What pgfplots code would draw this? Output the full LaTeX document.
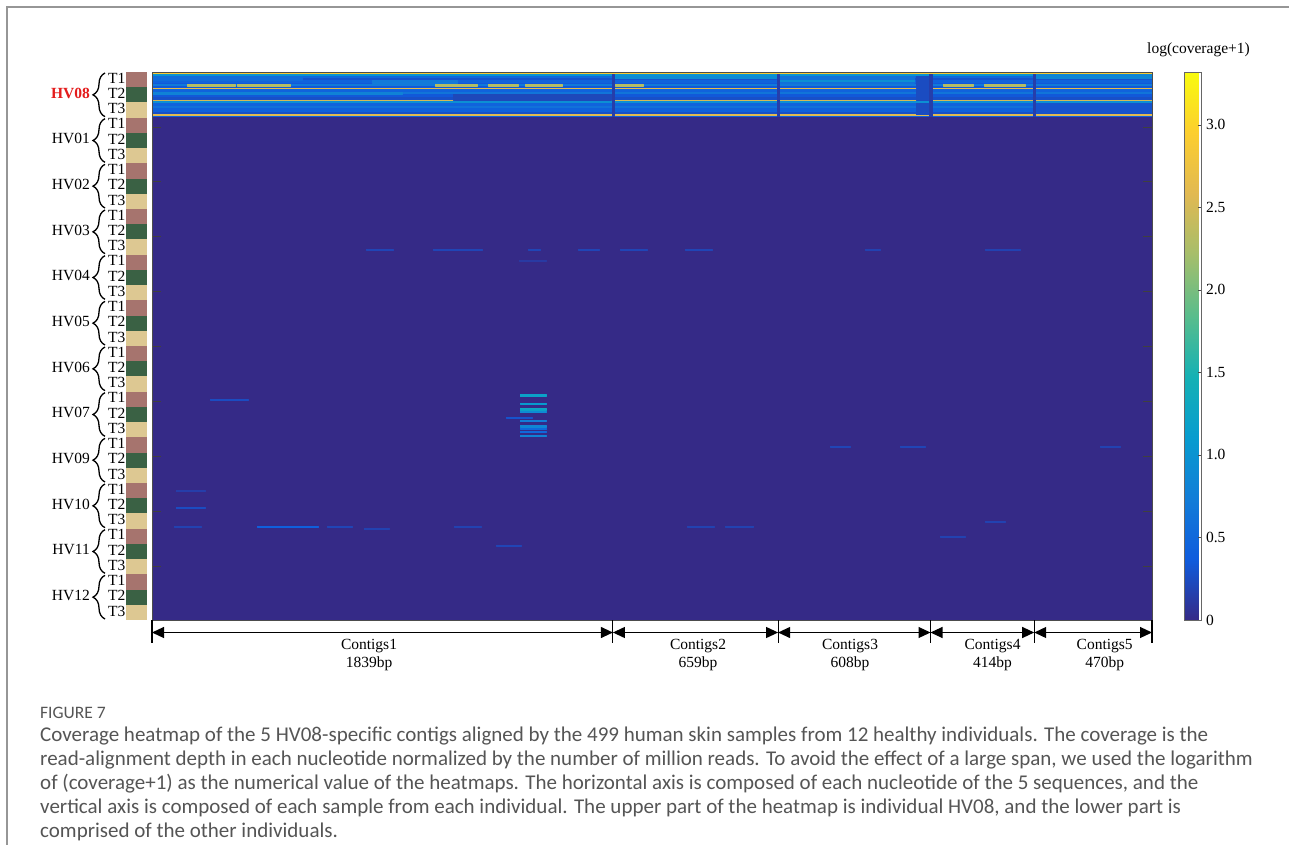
\documentclass[border=0pt]{standalone}
\usepackage{fontspec}
\setmainfont{Liberation Serif}
\newfontfamily\capfont{Carlito}
\usepackage{pgfplots}
\pgfplotsset{compat=1.18}
\usetikzlibrary{arrows.meta,decorations.pathreplacing}
\definecolor{tone}{RGB}{166,116,110}
\definecolor{ttwo}{RGB}{58,97,68}
\definecolor{tthree}{RGB}{221,200,146}
\definecolor{hvred}{RGB}{228,28,28}
\definecolor{capgray}{RGB}{85,85,85}
\definecolor{framegray}{RGB}{150,150,150}
\pgfplotsset{
  colormap={parula}{rgb255(0)=(53,42,135) rgb255(1)=(15,92,221) rgb255(2)=(18,125,216)
    rgb255(3)=(7,156,207) rgb255(4)=(21,177,180) rgb255(5)=(89,189,140)
    rgb255(6)=(165,190,107) rgb255(7)=(225,185,82) rgb255(8)=(252,206,46)
    rgb255(9)=(249,251,14)}
}
\newcommand\lab{\fontsize{15.5}{18}\selectfont}
\begin{document}
\begin{tikzpicture}
\useasboundingbox (0pt,0pt) rectangle (1289pt,-845pt);
\fill[white] (0pt,0pt) rectangle (1289pt,-845pt);
\draw[framegray, line width=1.5pt] (1289pt,-7pt) -- (7pt,-7pt) -- (7pt,-845pt);
\begin{axis}[
  at={(152pt,-620pt)}, anchor=south west,
  width=1000pt, height=548pt, scale only axis,
  xmin=0, xmax=3990, ymin=0, ymax=499, y dir=reverse,
  xtick=\empty, ytick={50,100,150,200,250,300,350,400,450}, yticklabels={},
  tick align=inside, major tick length=9pt,
  tick style={black!75, line width=0.8pt},
  axis line style={black!70, line width=0.8pt},
  axis on top,
  point meta min=0, point meta max=3.32,
  colormap name=parula,
  colorbar,
  colorbar style={
    at={(parent axis.north east)}, anchor=north west, xshift=24pt,
    width=17pt, height=548pt, scale only axis,
    ytick={0,0.5,1,1.5,2,2.5,3},
    yticklabels={0,0.5,1.0,1.5,2.0,2.5,3.0},
    ytick pos=right, yticklabel pos=right,
    tick align=inside, major tick length=4pt,
    tick style={black!70, line width=0.6pt},
    axis line style={black!60, line width=0.6pt},
    yticklabel style={font=\lab, xshift=1pt},
  },
]
% background and HV08 sample rows
\addplot[patch, patch type=rectangle, shader=flat, point meta=explicit]
table[meta=c, row sep=\\] {
x y c\\
0 0 0\\ 3990 0 0\\ 3990 499 0\\ 0 499 0\\
0 0 2.9\\ 3990 0 2.9\\ 3990 2.1 2.9\\ 0 2.1 2.9\\
0 1.8 1.0\\ 3990 1.8 1.0\\ 3990 3.9 1.0\\ 0 3.9 1.0\\
0 3.6 0.5\\ 3990 3.6 0.5\\ 3990 5.7 0.5\\ 0 5.7 0.5\\
0 5.4 0.3\\ 3990 5.4 0.3\\ 3990 7.6 0.3\\ 0 7.6 0.3\\
0 7.3 0.45\\ 3990 7.3 0.45\\ 3990 10.6 0.45\\ 0 10.6 0.45\\
0 10.3 0.35\\ 3990 10.3 0.35\\ 3990 11.5 0.35\\ 0 11.5 0.35\\
0 11.2 0.7\\ 3990 11.2 0.7\\ 3990 13.0 0.7\\ 0 13.0 0.7\\
0 12.7 0.35\\ 3990 12.7 0.35\\ 3990 15.1 0.35\\ 0 15.1 0.35\\
0 14.8 2.65\\ 3990 14.8 2.65\\ 3990 16.0 2.65\\ 0 16.0 2.65\\
0 15.7 0.45\\ 3990 15.7 0.45\\ 3990 19.1 0.45\\ 0 19.1 0.45\\
0 18.8 0.65\\ 3990 18.8 0.65\\ 3990 20.6 0.65\\ 0 20.6 0.65\\
0 20.3 0.35\\ 3990 20.3 0.35\\ 3990 23.3 0.35\\ 0 23.3 0.35\\
0 23.0 0.28\\ 3990 23.0 0.28\\ 3990 26.1 0.28\\ 0 26.1 0.28\\
0 25.8 2.5\\ 3990 25.8 2.5\\ 3990 27.1 2.5\\ 0 27.1 2.5\\
0 26.8 0.95\\ 3990 26.8 0.95\\ 3990 28.8 0.95\\ 0 28.8 0.95\\
0 28.5 0.45\\ 3990 28.5 0.45\\ 3990 31.3 0.45\\ 0 31.3 0.45\\
0 31.0 0.6\\ 3990 31.0 0.6\\ 3990 33.7 0.6\\ 0 33.7 0.6\\
0 33.4 0.42\\ 3990 33.4 0.42\\ 3990 37.3 0.42\\ 0 37.3 0.42\\
0 37.0 0.28\\ 3990 37.0 0.28\\ 3990 39.1 0.28\\ 0 39.1 0.28\\
0 38.8 2.6\\ 3990 38.8 2.6\\ 3990 40.2 2.6\\ 0 40.2 2.6\\
0 39.9 0.4\\ 3990 39.9 0.4\\ 3990 40.6 0.4\\ 0 40.6 0.4\\
};
% contig-level variations, gaps, short bright segments
\addplot[patch, patch type=rectangle, shader=flat, point meta=explicit]
table[meta=c, row sep=\\] {
x y c\\
1846 3.8 0.9\\ 2492 3.8 0.9\\ 2492 5.2 0.9\\ 1846 5.2 0.9\\
2504 3.6 0.6\\ 3040 3.6 0.6\\ 3040 10.3 0.6\\ 2504 10.3 0.6\\
2504 7.3 0.95\\ 3040 7.3 0.95\\ 3040 8.6 0.95\\ 2504 8.6 0.95\\
0 3.6 0.55\\ 600 3.6 0.55\\ 600 7.3 0.55\\ 0 7.3 0.55\\
880 7.3 0.7\\ 1217 7.3 0.7\\ 1217 10.3 0.7\\ 880 10.3 0.7\\
0 18.8 0.8\\ 1000 18.8 0.8\\ 1000 20.3 0.8\\ 0 20.3 0.8\\
1200 20.3 0.22\\ 1834 20.3 0.22\\ 1834 25.8 0.22\\ 1200 25.8 0.22\\
3526 1.8 0.85\\ 3990 1.8 0.85\\ 3990 5.4 0.85\\ 3526 5.4 0.85\\
3526 28.5 0.3\\ 3990 28.5 0.3\\ 3990 37 0.3\\ 3526 37 0.3\\
3050 3.6 0.25\\ 3100 3.6 0.25\\ 3100 14.8 0.25\\ 3050 14.8 0.25\\
3050 15.7 0.25\\ 3100 15.7 0.25\\ 3100 25.8 0.25\\ 3050 25.8 0.25\\
3050 28.5 0.25\\ 3100 28.5 0.25\\ 3100 38.8 0.25\\ 3050 38.8 0.25\\
1835 1.8 0.15\\ 1845 1.8 0.15\\ 1845 40.6 0.15\\ 1835 40.6 0.15\\
2493 1.8 0.15\\ 2503 1.8 0.15\\ 2503 40.6 0.15\\ 2493 40.6 0.15\\
3101 1.8 0.15\\ 3111 1.8 0.15\\ 3111 40.6 0.15\\ 3101 40.6 0.15\\
3515 1.8 0.15\\ 3525 1.8 0.15\\ 3525 40.6 0.15\\ 3515 40.6 0.15\\
140 11.5 2.3\\ 331 11.5 2.3\\ 331 12.5 2.3\\ 140 12.5 2.3\\
339 11.5 2.3\\ 551 11.5 2.3\\ 551 12.5 2.3\\ 339 12.5 2.3\\
1129 11.5 2.3\\ 1297 11.5 2.3\\ 1297 12.5 2.3\\ 1129 12.5 2.3\\
1341 11.5 2.3\\ 1460 11.5 2.3\\ 1460 12.5 2.3\\ 1341 12.5 2.3\\
1488 11.5 2.3\\ 1636 11.5 2.3\\ 1636 12.5 2.3\\ 1488 12.5 2.3\\
1850 11.5 2.3\\ 1959 11.5 2.3\\ 1959 12.5 2.3\\ 1850 12.5 2.3\\
3156 11.5 2.3\\ 3276 11.5 2.3\\ 3276 12.5 2.3\\ 3156 12.5 2.3\\
3320 11.5 2.3\\ 3483 11.5 2.3\\ 3483 12.5 2.3\\ 3320 12.5 2.3\\
};
% sparse coverage in the other individuals
\addplot[patch, patch type=rectangle, shader=flat, point meta=explicit]
table[meta=c, row sep=\\] {
x y c\\
854 161.3 0.2\\ 962 161.3 0.2\\ 962 162.5 0.2\\ 854 162.5 0.2\\
1121 161.3 0.2\\ 1317 161.3 0.2\\ 1317 162.5 0.2\\ 1121 162.5 0.2\\
1500 161.3 0.2\\ 1548 161.3 0.2\\ 1548 162.5 0.2\\ 1500 162.5 0.2\\
1700 161.3 0.2\\ 1784 161.3 0.2\\ 1784 162.5 0.2\\ 1700 162.5 0.2\\
1867 161.3 0.2\\ 1975 161.3 0.2\\ 1975 162.5 0.2\\ 1867 162.5 0.2\\
2127 161.3 0.2\\ 2234 161.3 0.2\\ 2234 162.5 0.2\\ 2127 162.5 0.2\\
2845 161.3 0.18\\ 2905 161.3 0.18\\ 2905 162.5 0.18\\ 2845 162.5 0.18\\
3324 161.3 0.18\\ 3463 161.3 0.18\\ 3463 162.5 0.18\\ 3324 162.5 0.18\\
1464 171 0.12\\ 1572 171 0.12\\ 1572 172 0.12\\ 1464 172 0.12\\
231 297.5 0.25\\ 383 297.5 0.25\\ 383 298.7 0.25\\ 231 298.7 0.25\\
1468 293.7 1.2\\ 1572 293.7 1.2\\ 1572 295.5 1.2\\ 1468 295.5 1.2\\
1468 301.3 1.1\\ 1572 301.3 1.1\\ 1572 302.4 1.1\\ 1468 302.4 1.1\\
1468 306.0 1.3\\ 1572 306.0 1.3\\ 1572 306.6 1.3\\ 1468 306.6 1.3\\
1468 306.6 2.1\\ 1572 306.6 2.1\\ 1572 307.4 2.1\\ 1468 307.4 2.1\\
1468 307.4 1.2\\ 1572 307.4 1.2\\ 1572 308.0 1.2\\ 1468 308.0 1.2\\
1468 308.7 0.9\\ 1572 308.7 0.9\\ 1572 310.2 0.9\\ 1468 310.2 0.9\\
1412 314.2 0.3\\ 1516 314.2 0.3\\ 1516 315.1 0.3\\ 1412 315.1 0.3\\
1468 317.2 0.75\\ 1572 317.2 0.75\\ 1572 318.4 0.75\\ 1468 318.4 0.75\\
1468 321.5 0.85\\ 1572 321.5 0.85\\ 1572 323.0 0.85\\ 1468 323.0 0.85\\
1468 324.5 0.5\\ 1572 324.5 0.5\\ 1572 325.3 0.5\\ 1468 325.3 0.5\\
1468 327.0 0.5\\ 1572 327.0 0.5\\ 1572 328.4 0.5\\ 1468 328.4 0.5\\
1468 331.0 0.8\\ 1572 331.0 0.8\\ 1572 332.0 0.8\\ 1468 332.0 0.8\\
2705 340.5 0.2\\ 2785 340.5 0.2\\ 2785 341.6 0.2\\ 2705 341.6 0.2\\
2985 340.5 0.2\\ 3084 340.5 0.2\\ 3084 341.6 0.2\\ 2985 341.6 0.2\\
3782 340.5 0.18\\ 3862 340.5 0.18\\ 3862 341.6 0.18\\ 3782 341.6 0.18\\
96 381 0.15\\ 211 381 0.15\\ 211 382 0.15\\ 96 382 0.15\\
96 396.5 0.25\\ 211 396.5 0.25\\ 211 397.6 0.25\\ 96 397.6 0.25\\
3324 409 0.18\\ 3403 409 0.18\\ 3403 410 0.18\\ 3324 410 0.18\\
88 413.5 0.18\\ 195 413.5 0.18\\ 195 414.6 0.18\\ 88 414.6 0.18\\
419 413.5 0.4\\ 662 413.5 0.4\\ 662 414.6 0.4\\ 419 414.6 0.4\\
698 413.5 0.2\\ 798 413.5 0.2\\ 798 414.6 0.2\\ 698 414.6 0.2\\
846 415.5 0.18\\ 946 415.5 0.18\\ 946 416.6 0.18\\ 846 416.6 0.18\\
1205 413.5 0.18\\ 1313 413.5 0.18\\ 1313 414.6 0.18\\ 1205 414.6 0.18\\
2135 413.5 0.18\\ 2242 413.5 0.18\\ 2242 414.6 0.18\\ 2135 414.6 0.18\\
2286 413.5 0.18\\ 2400 413.5 0.18\\ 2400 414.6 0.18\\ 2286 414.6 0.18\\
3144 422.5 0.18\\ 3244 422.5 0.18\\ 3244 423.6 0.18\\ 3144 423.6 0.18\\
1373 431 0.2\\ 1472 431 0.2\\ 1472 432 0.2\\ 1373 432 0.2\\
};
\end{axis}
% colorbar title
\node[font=\lab] at (1198.5pt,-50pt) {log(coverage+1)};
% left sample annotation
\foreach \nm [count=\i from 0] in {HV08,HV01,HV02,HV03,HV04,HV05,HV06,HV07,HV09,HV10,HV11,HV12}{
  \pgfmathsetmacro{\ta}{72+\i*45.6667}
  \pgfmathsetmacro{\tb}{\ta+15.2222}
  \pgfmathsetmacro{\tc}{\ta+30.4444}
  \pgfmathsetmacro{\td}{\ta+45.6667}
  \fill[tone] (126pt,-\ta pt) rectangle (147pt,-\tb pt);
  \fill[ttwo] (126pt,-\tb pt) rectangle (147pt,-\tc pt);
  \fill[tthree] (126pt,-\tc pt) rectangle (147pt,-\td pt);
  \node[font=\lab, anchor=east, inner sep=0pt] at (125.5pt,{-(\ta+6.2)*1pt}) {T1};
  \node[font=\lab, anchor=east, inner sep=0pt] at (125.5pt,{-(\tb+6.2)*1pt}) {T2};
  \node[font=\lab, anchor=east, inner sep=0pt] at (125.5pt,{-(\tc+6.2)*1pt}) {T3};
  \draw[line width=1.3pt, decorate, decoration={brace, amplitude=12pt}]
     (105pt,{-(\td-1)*1pt}) -- (105pt,{-(\ta+1)*1pt});
}
\foreach \nm [count=\i from 0] in {HV01,HV02,HV03,HV04,HV05,HV06,HV07,HV09,HV10,HV11,HV12}{
  \node[font=\lab, anchor=east, inner sep=0pt] at (90pt,{-(72+(\i+1)*45.6667+21)*1pt}) {\nm};
}
\node[font=\lab\bfseries, text=hvred, anchor=east, inner sep=0pt] at (90pt,-93pt) {HV08};
% bottom contig annotation
\foreach \a/\b in {152/612.9, 612.9/778.1, 778.1/930.5, 930.5/1034.2, 1034.2/1152}{
  \draw[line width=1.1pt, {Triangle[length=12pt,width=11pt]}-{Triangle[length=12pt,width=11pt]}]
    (\a pt,-632.5pt) -- (\b pt,-632.5pt);
}
\foreach \x in {152,612.9,778.1,930.5,1034.2,1152}{
  \draw[line width=1.1pt] (\x pt,-620pt) -- (\x pt,-643pt);
}
\foreach \x/\n/\l in {369/Contigs1/1839bp, 698/Contigs2/659bp, 850/Contigs3/608bp, 992.5/Contigs4/414bp, 1104.7/Contigs5/470bp}{
  \node[font=\lab, anchor=base, inner sep=0pt] at (\x pt,-649pt) {\n};
  \node[font=\lab, anchor=base, inner sep=0pt] at (\x pt,-667pt) {\l};
}
% caption
\node[font=\capfont\fontsize{17.5}{20}\selectfont, text=capgray, anchor=base west, inner sep=0pt] at (40pt,-718pt) {FIGURE 7};
\begin{scope}[every node/.style={font=\capfont\fontsize{21}{24}\selectfont, text=capgray, anchor=base west, inner sep=0pt}]
\node at (40pt,-741pt) {Coverage heatmap of the 5 HV08-specific contigs aligned by the 499 human skin samples from 12 healthy individuals. The coverage is the};
\node at (40pt,-765pt) {read-alignment depth in each nucleotide normalized by the number of million reads. To avoid the effect of a large span, we used the logarithm};
\node at (40pt,-789.5pt) {of (coverage+1) as the numerical value of the heatmaps. The horizontal axis is composed of each nucleotide of the 5 sequences, and the};
\node at (40pt,-813.5pt) {vertical axis is composed of each sample from each individual. The upper part of the heatmap is individual HV08, and the lower part is};
\node at (40pt,-837.5pt) {comprised of the other individuals.};
\end{scope}
\end{tikzpicture}
\end{document}
